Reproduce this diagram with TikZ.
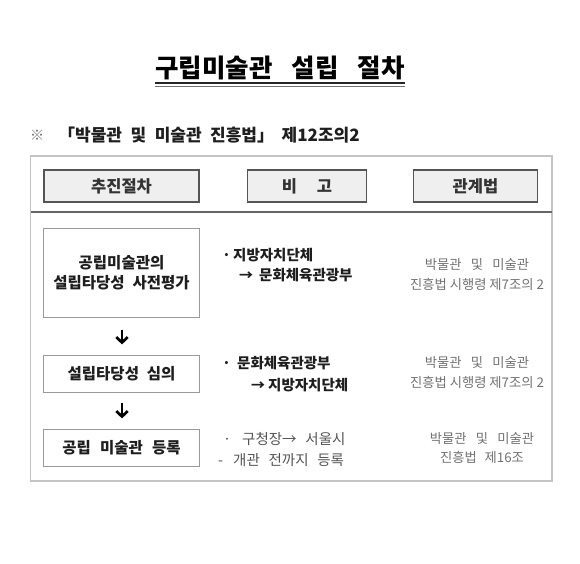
\documentclass[tikz,border=0pt]{standalone}
\usepackage{fontspec}
\setmainfont{Noto Sans CJK KR}
\usetikzlibrary{arrows.meta}
\definecolor{framecol}{HTML}{C4C4C4}
\definecolor{hdrline}{HTML}{555555}
\definecolor{hdrfill}{HTML}{EFEFEF}
\definecolor{sepcol}{HTML}{666666}
\definecolor{boxline}{HTML}{9A9A9A}
\definecolor{lawcol}{HTML}{727272}
\definecolor{darktext}{HTML}{1E1E1E}
\definecolor{softtext}{HTML}{555555}
\newcommand{\wsp}{\hspace{0.6em}}
\newcommand{\smallarrow}{{\fontsize{14}{14}\selectfont →}}
\begin{document}
\begin{tikzpicture}[x={(1pt,0pt)},y={(0pt,-1pt)},
  titlestyle/.style={inner sep=0pt, font=\fontsize{25.5}{30}\selectfont\bfseries, text=black},
  substyle/.style={inner sep=0pt, font=\fontsize{17}{20}\selectfont\bfseries, text=darktext},
  hdrbox/.style={draw=hdrline, fill=hdrfill, line width=1.6pt, minimum width=155pt, minimum height=32pt, inner sep=0pt, font=\fontsize{16.5}{19}\selectfont\bfseries, text=black!80},
  stepbox/.style={draw=boxline, line width=1.2pt, minimum width=156pt, inner sep=0pt, align=center, font=\fontsize{15.5}{20}\selectfont\bfseries, text=darktext},
  remark/.style={inner sep=0pt, anchor=west, align=left, font=\fontsize{14.5}{20}\selectfont\bfseries, text=darktext},
  lawtext/.style={inner sep=0pt, align=center, font=\fontsize{13.3}{20}\selectfont, text=lawcol},
  flowarrow/.style={line width=2.7pt, black, -{Straight Barb[length=5.5pt,width=11.5pt]}}
]
\useasboundingbox (0,0) rectangle (580,563);
\fill[white] (0,0) rectangle (580,563);

% title
\node[titlestyle] (title) at (280,67.5) {구립미술관\hspace{0.75em}설립\hspace{0.75em}절차};
\draw[line width=1.8pt, black!85] (155,83.3) -- (405,83.3);
\draw[line width=1.1pt, black!55] (155,86.8) -- (405,86.8);

% subtitle
\node[inner sep=0pt, font=\fontsize{14}{16}\selectfont, text=black!55] (mark) at (37,135) {※};
\node[substyle, anchor=west] (sub) at (58,135) {「박물관\hspace{0.5em}및\hspace{0.5em}미술관\hspace{0.5em}진흥법」\hspace{0.45em}제12조의2};

% frame and header
\draw[framecol, line width=1.3pt] (30.5,156) rectangle (552,481);
\node[hdrbox] (h1) at (121.5,186) {추진절차};
\node[hdrbox, minimum width=119pt] (h2) at (307,186) {비\hspace{1.2em}고};
\node[hdrbox, minimum width=124pt] (h3) at (475.5,186) {관계법};
\draw[sepcol, line width=1.6pt] (30.5,212) -- (552,212);

% steps
\node[stepbox, minimum height=89pt] (s1) at (121.5,273) {공립미술관의\\설립타당성\hspace{0.5em}사전평가};
\node[stepbox, minimum height=37pt] (s2) at (121.5,374) {설립타당성\hspace{0.5em}심의};
\node[stepbox, minimum height=37pt] (s3) at (121.5,448) {공립\hspace{0.6em}미술관\hspace{0.6em}등록};
\draw[flowarrow, shorten <=11.5pt, shorten >=10.5pt] (s1.south -| 122,0) -- (s2.north -| 122,0);
\draw[flowarrow, shorten <=9.5pt, shorten >=10.5pt] (s2.south -| 122,0) -- (s3.north -| 122,0);

% remarks
\node[remark] (r1) at (222,265.5) {\makebox[11pt][l]{·}지방자치단체\\\hspace{17pt}\makebox[20pt][l]{\smallarrow}문화체육관광부};
\node[remark, font=\fontsize{14.5}{22}\selectfont\bfseries] (r2) at (222,374) {\makebox[15pt][l]{·}문화체육관광부\\\hspace{29pt}\makebox[17pt][l]{\smallarrow}지방자치단체};
\node[remark, font=\fontsize{14.5}{21}\selectfont, text=softtext] (r3) at (218,449.5) {\hspace{5pt}\makebox[19pt][l]{·}구청장→\wsp{}서울시\\\makebox[15pt][l]{-}개관\wsp{}전까지\wsp{}등록};

% laws
\node[lawtext] (l1) at (477,275) {박물관\hspace{0.7em}및\hspace{0.7em}미술관\\진흥법 시행령 제7조의 2};
\node[lawtext] (l2) at (477,373) {박물관\hspace{0.7em}및\hspace{0.7em}미술관\\진흥법 시행령 제7조의 2};
\node[lawtext, font=\fontsize{13.3}{19}\selectfont] (l3) at (482,448.5) {박물관\hspace{0.7em}및\hspace{0.7em}미술관\\진흥법\hspace{0.6em}제16조};
\end{tikzpicture}
\end{document}
